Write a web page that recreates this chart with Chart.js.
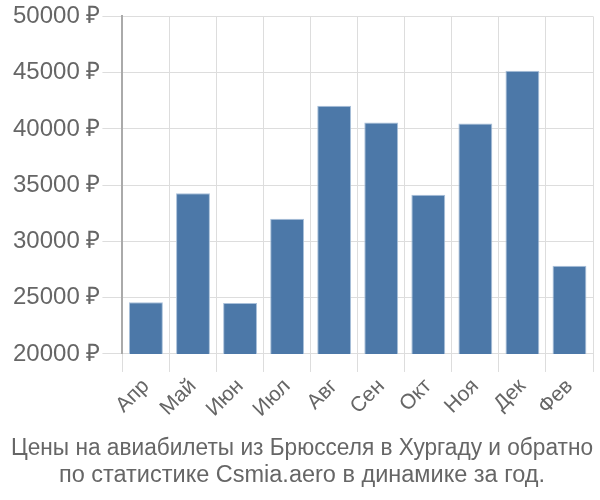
<!DOCTYPE html>
<html><head><meta charset="utf-8">
<script src="https://cdn.jsdelivr.net/npm/chart.js@4/dist/chart.umd.min.js"></script>
<style>html,body{margin:0;padding:0;background:#fff}#wrap{width:600px;height:500px}</style>
</head><body><div id="wrap"><canvas id="c"></canvas></div>
<script>
const categories = ["Апр","Май","Июн","Июл","Авг","Сен","Окт","Ноя","Дек","Фев"];
const prices = [24590, 34290, 24520, 32020, 42050, 40570, 34160, 40490, 45160, 27850];
const yTicks = [20000, 25000, 30000, 35000, 40000, 45000, 50000];
const titleLines = ["Цены на авиабилеты из Брюсселя в Хургаду и обратно","по статистике Csmia.aero в динамике за год."];

Chart.defaults.font.family = "'Liberation Sans', Arial, sans-serif";
Chart.defaults.color = "#666";
new Chart(document.getElementById('c'), {
  type: 'bar',
  data: { labels: categories, datasets: [{ data: prices, backgroundColor: '#4c78a8', borderColor: '#a9c0da', borderWidth: 1 }] },
  options: {
    responsive: true, maintainAspectRatio: false, animation: false,
    layout: { padding: { left: 11, right: 7, top: 2, bottom: 11 } },
    plugins: {
      legend: { display: false },
      tooltip: { enabled: false },
      title: { display: true, position: 'bottom', text: titleLines, font: { size: 23.5, weight: 'normal', lineHeight: 1.15 }, color: '#666', padding: { top: 11, bottom: 0 } }
    },
    scales: {
      x: {
        grid: { color: '#ddd', lineWidth: 1, tickLength: 18 },
        border: { color: '#ddd' },
        ticks: { font: { size: 21 }, maxRotation: 45, minRotation: 45, color: '#666', padding: 2 }
      },
      y: {
        min: yTicks[0], max: yTicks[yTicks.length - 1],
        afterBuildTicks: s => { s.ticks = yTicks.map(v => ({ value: v })); },
        grid: { color: '#ddd', tickLength: 20 },
        border: { color: '#aaa', width: 2 },
        ticks: { font: { size: 24 }, color: '#666', padding: 2, callback: v => v + ' ₽' }
      }
    }
  }
});
</script></body></html>
